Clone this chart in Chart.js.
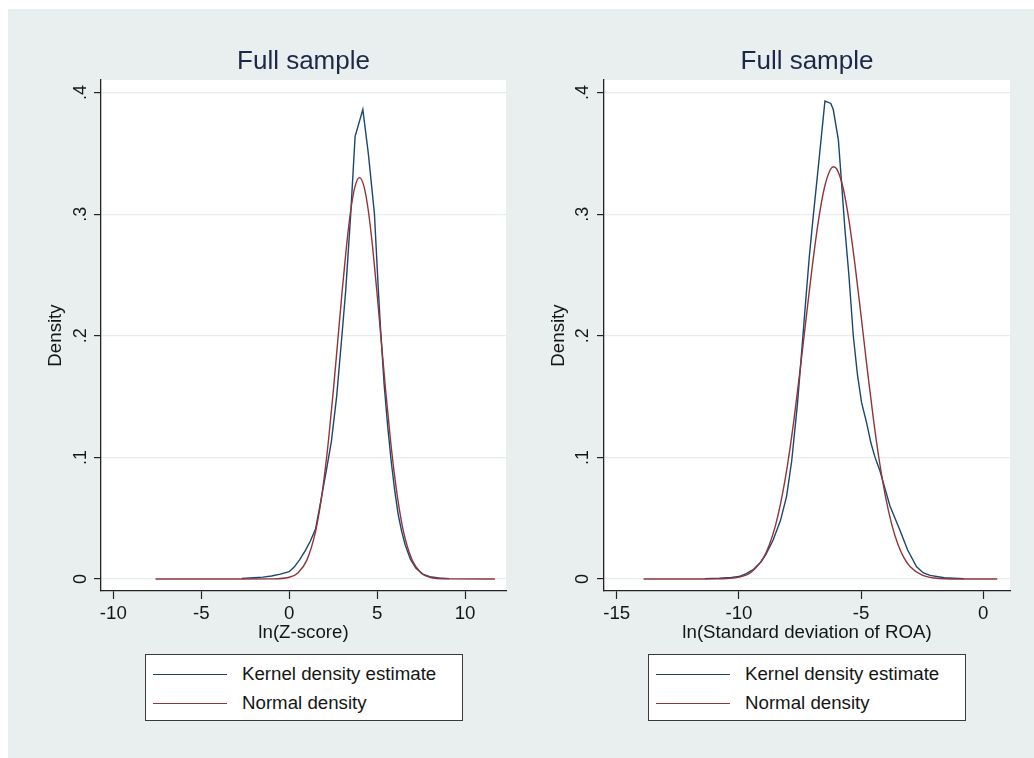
<!DOCTYPE html>
<html>
<head>
<meta charset="utf-8">
<script src="https://cdn.jsdelivr.net/npm/chart.js@4.4.1/dist/chart.umd.min.js"></script>
<style>
html,body{margin:0;padding:0;background:#ffffff;}
body{width:1034px;height:758px;position:relative;overflow:hidden;font-family:"Liberation Sans",Arial,sans-serif;}
#bg{position:absolute;left:8px;top:9px;width:1026px;height:749px;background:#e9efef;}
canvas{position:absolute;top:9px;}
#c1{left:8px;}
#c2{left:517px;}
.legend{position:absolute;top:654px;width:318px;height:67px;background:#ffffff;border:1px solid #3a3a3a;box-sizing:border-box;}
.legend .ln{position:absolute;left:7px;width:74px;height:0;border-top:1.3px solid;}
.legend .tx{position:absolute;left:96px;height:22px;line-height:22px;font-size:18.7px;color:#151515;white-space:nowrap;}
</style>
</head>
<body>
<div id="bg"></div>
<canvas id="c1" width="509" height="640"></canvas>
<canvas id="c2" width="517" height="640"></canvas>
<div class="legend" id="leg1" style="left:145px"></div>
<div class="legend" id="leg2" style="left:648px"></div>
<script>
// ---------- data ----------
const densityTicks = [0, 0.1, 0.2, 0.3, 0.4];
const densityTickLabels = ['0', '.1', '.2', '.3', '.4'];

const zTicks = [-10, -5, 0, 5, 10];
const zKernelX = [-2.7, -2.0, -1.5, -1.0, -0.5, 0.0, 0.3, 0.6, 0.9, 1.2, 1.5, 1.8, 2.1, 2.4, 2.7, 3.0, 3.22, 3.5, 3.75, 4.19, 4.5, 4.6, 4.85, 5.07, 5.2, 5.4, 5.6, 5.8, 6.0, 6.2, 6.4, 6.6, 6.9, 7.2, 7.6, 8.0, 8.5, 9.1];
const zKernelY = [0.0005, 0.001, 0.0015, 0.0025, 0.004, 0.006, 0.010, 0.016, 0.023, 0.031, 0.041, 0.064, 0.088, 0.113, 0.150, 0.200, 0.238, 0.300, 0.364, 0.386, 0.350, 0.336, 0.300, 0.238, 0.205, 0.160, 0.126, 0.097, 0.073, 0.053, 0.039, 0.028, 0.016, 0.009, 0.004, 0.002, 0.0008, 0.0003];
const zNormalX = [-7.6, -3, -1, 0, 0.5, 1, 1.5, 1.75, 2, 2.25, 2.5, 2.75, 3, 3.25, 3.5, 3.75, 4, 4.25, 4.5, 4.75, 5, 5.25, 5.5, 5.75, 6, 6.25, 6.5, 7, 7.5, 8, 9, 11.7];
const zNormalY = [0, 0, 0.0001, 0.0014, 0.0050, 0.0153, 0.0390, 0.0586, 0.0842, 0.1159, 0.1530, 0.1935, 0.2345, 0.2723, 0.3030, 0.3230, 0.3300, 0.3230, 0.3030, 0.2723, 0.2345, 0.1935, 0.1530, 0.1159, 0.0842, 0.0586, 0.0390, 0.0153, 0.0050, 0.0014, 0.0001, 0];

const roaTicks = [-15, -10, -5, 0];
const roaKernelX = [-11.4, -10.8, -10.3, -10.0, -9.7, -9.4, -9.1, -8.9, -8.6, -8.3, -8.05, -7.84, -7.6, -7.4, -7.23, -7.12, -6.96, -6.75, -6.57, -6.48, -6.24, -6.14, -5.93, -5.79, -5.66, -5.5, -5.32, -5.15, -4.98, -4.77, -4.6, -4.43, -4.23, -3.82, -3.41, -3.1, -2.73, -2.45, -2.18, -1.6, -0.8];
const roaKernelY = [0.0003, 0.0006, 0.0012, 0.002, 0.0045, 0.008, 0.014, 0.020, 0.032, 0.048, 0.068, 0.097, 0.145, 0.195, 0.238, 0.265, 0.298, 0.339, 0.375, 0.393, 0.391, 0.386, 0.361, 0.323, 0.287, 0.250, 0.200, 0.168, 0.145, 0.128, 0.112, 0.100, 0.089, 0.060, 0.040, 0.024, 0.010, 0.005, 0.003, 0.001, 0.0003];
const roaNormalX = [-13.9, -11.5, -11, -10.5, -10, -9.5, -9, -8.75, -8.5, -8.25, -8, -7.75, -7.5, -7.25, -7, -6.75, -6.5, -6.25, -6.12, -6, -5.75, -5.5, -5.25, -5, -4.75, -4.5, -4.25, -4, -3.75, -3.5, -3.25, -3, -2.5, -2, -1, 0.57];
const roaNormalY = [0, 0, 0.0001, 0.0004, 0.0015, 0.0056, 0.0173, 0.0283, 0.0443, 0.0665, 0.0953, 0.1306, 0.1711, 0.2143, 0.2567, 0.2940, 0.3219, 0.3369, 0.3390, 0.3372, 0.3227, 0.2953, 0.2583, 0.2161, 0.1728, 0.1321, 0.0966, 0.0675, 0.0451, 0.0288, 0.0176, 0.0103, 0.0031, 0.0008, 0, 0];

const seriesNames = ['Kernel density estimate', 'Normal density'];
const seriesColors = ['#1a476f', '#90353b'];
const panelTitle = 'Full sample';
const yTitle = 'Density';
const zTitle = 'ln(Z-score)';
const roaTitle = 'ln(Standard deviation of ROA)';

// ---------- rendering ----------
const FONT = '"Liberation Sans", Arial, sans-serif';
const zip = (xs, ys) => xs.map((x, i) => ({ x: x, y: ys[i] }));

const plotBg = {
  id: 'plotBg',
  beforeDraw(chart) {
    const a = chart.chartArea, ctx = chart.ctx;
    ctx.save();
    ctx.fillStyle = '#ffffff';
    ctx.fillRect(a.left, a.top, a.right - a.left, a.bottom - a.top);
    ctx.restore();
  }
};

function makePanel(id, cfg) {
  return new Chart(document.getElementById(id), {
    type: 'scatter',
    data: {
      datasets: [
        { label: seriesNames[0], data: zip(cfg.kx, cfg.ky), showLine: true, borderColor: seriesColors[0],
          borderWidth: 1.4, pointRadius: 0, tension: 0, order: 1 },
        { label: seriesNames[1], data: zip(cfg.nx, cfg.ny), showLine: true, borderColor: seriesColors[1],
          borderWidth: 1.4, pointRadius: 0, cubicInterpolationMode: 'monotone', order: 0 }
      ]
    },
    options: {
      responsive: false,
      animation: false,
      events: [],
      layout: { padding: { left: 0, right: cfg.padRight, top: 0, bottom: 0 } },
      plugins: {
        legend: { display: false },
        tooltip: { enabled: false },
        title: { display: true, text: panelTitle, color: '#1d2747', fullSize: false,
                 font: { family: FONT, size: 26, weight: 'normal', lineHeight: 1 },
                 padding: { top: 40, bottom: 5 } }
      },
      scales: {
        x: {
          type: 'linear', min: cfg.xMin, max: cfg.xMax,
          afterBuildTicks: (ax) => { ax.ticks = cfg.xTicks.map(v => ({ value: v })); },
          afterFit: (s) => { s.height = 58; },
          ticks: { color: '#151515', font: { family: FONT, size: 18.7 }, padding: 4,
                   maxRotation: 0, autoSkip: false, callback: (v) => String(v) },
          grid: { drawOnChartArea: false, drawTicks: true, tickLength: 8, tickColor: '#222222', tickWidth: 1.2 },
          border: { display: true, color: '#222222', width: 1.3 },
          title: { display: true, text: cfg.xTitle, color: '#151515',
                   font: { family: FONT, size: 18.7, lineHeight: 1.2 }, padding: { top: 0, bottom: 5 } }
        },
        y: {
          type: 'linear', min: -0.009866, max: 0.41028,
          afterBuildTicks: (ax) => { ax.ticks = densityTicks.map(v => ({ value: v })); },
          afterFit: (s) => { s.width = cfg.yWidth; },
          ticks: { color: '#151515', font: { family: FONT, size: 18 }, padding: cfg.yTickPad,
                   minRotation: 90, maxRotation: 90, crossAlign: 'center', autoSkip: false,
                   callback: (v) => densityTickLabels[densityTicks.indexOf(v)] },
          grid: { color: '#e6eded', lineWidth: 1.2, drawTicks: true, tickLength: 7,
                  tickColor: '#222222', tickWidth: 1.2 },
          border: { display: true, color: '#222222', width: 1.3 },
          title: { display: true, text: yTitle, color: '#151515',
                   font: { family: FONT, size: 18.7, lineHeight: 1.2 }, padding: { top: cfg.yTitlePad, bottom: 0 } }
        }
      }
    },
    plugins: [plotBg]
  });
}

makePanel('c1', { kx: zKernelX, ky: zKernelY, nx: zNormalX, ny: zNormalY,
  xMin: -10.699, xMax: 12.33, xTicks: zTicks, xTitle: zTitle, yWidth: 93, yTitlePad: 37, yTickPad: 5, padRight: 11 });
makePanel('c2', { kx: roaKernelX, ky: roaKernelY, nx: roaNormalX, ny: roaNormalY,
  xMin: -15.52, xMax: 1.092, xTicks: roaTicks, xTitle: roaTitle, yWidth: 87, yTitlePad: 31, yTickPad: 6, padRight: 24 });

// legends (one per panel), built from the series names/colours
function buildLegend(id) {
  const el = document.getElementById(id);
  const rowsY = [19, 48];
  seriesNames.forEach((name, i) => {
    const ln = document.createElement('div');
    ln.className = 'ln';
    ln.style.top = rowsY[i] + 'px';
    ln.style.borderTopColor = seriesColors[i];
    el.appendChild(ln);
    const tx = document.createElement('div');
    tx.className = 'tx';
    tx.style.top = (rowsY[i] - 11) + 'px';
    tx.textContent = name;
    el.appendChild(tx);
  });
}
buildLegend('leg1');
buildLegend('leg2');
</script>
</body>
</html>
